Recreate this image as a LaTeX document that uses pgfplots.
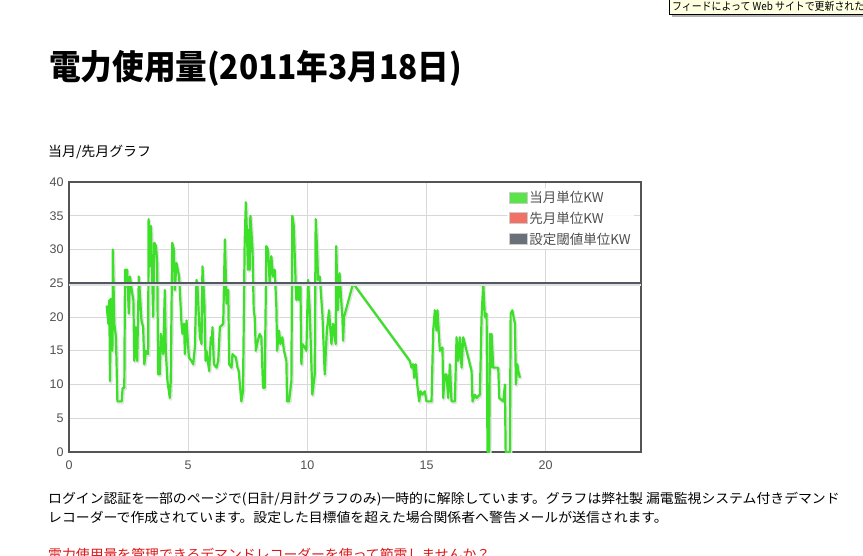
\documentclass[border=0pt]{standalone}
\usepackage{pgfplots}
\pgfplotsset{compat=1.18}
\usepackage{fontspec}
\setmainfont{Liberation Sans}
\newfontfamily\jp{Noto Sans CJK JP}
\definecolor{cgreen}{RGB}{60,224,40}
\definecolor{cred}{RGB}{240,90,74}
\definecolor{cgray}{RGB}{80,88,98}
\definecolor{framec}{RGB}{84,84,84}
\definecolor{gridc}{RGB}{216,216,216}
\definecolor{ticktext}{RGB}{80,80,80}
\definecolor{tipbg}{RGB}{255,255,225}
\definecolor{linkred}{RGB}{220,20,20}
\pgfplotstableread{
x y
1.58 21.7
1.65 19
1.69 22.5
1.72 10.5
1.75 22.7
1.82 15
1.84 30
1.90 19
1.97 17
2.03 7.5
2.21 7.5
2.25 9.5
2.32 9.5
2.35 27
2.44 27
2.51 20.5
2.56 26
2.63 24
2.70 22.5
2.74 13.5
2.79 18.5
2.86 13.5
2.93 26
3.04 19.5
3.11 18.5
3.16 13
3.23 15
3.32 14.5
3.34 34.5
3.39 27.5
3.44 33.5
3.53 20
3.58 31
3.65 30.5
3.70 28
3.74 11.5
3.81 11.5
3.85 17.5
3.95 14.5
4.02 24
4.06 15
4.13 10.5
4.23 8
4.27 10.5
4.33 31
4.40 30
4.44 24
4.51 28
4.62 26
4.72 19
4.76 17.5
4.83 19
4.86 14.5
4.93 19.5
5.03 14
5.14 13.5
5.21 13
5.28 15.5
5.35 25.5
5.39 24.5
5.49 17
5.56 16
5.60 27.5
5.68 22
5.73 13.5
5.77 15
5.88 12
5.95 17
5.99 16
6.02 18.5
6.08 13
6.19 12.5
6.26 13.5
6.33 18.5
6.47 19
6.54 31.5
6.61 22
6.68 24
6.72 13
6.82 12.5
6.86 14.5
7.00 14
7.07 12.5
7.12 12
7.23 7.5
7.30 9
7.37 31
7.42 37
7.47 32
7.51 27
7.56 33
7.58 27
7.61 35
7.70 30
7.75 21
7.79 20
7.84 15
7.89 16
8.00 17.5
8.07 17
8.14 9.5
8.21 9.5
8.28 30.5
8.35 30
8.42 25
8.49 29
8.56 26
8.63 27
8.70 21.5
8.73 15
8.81 18
8.87 16
8.95 17
9.02 15
9.12 13.5
9.15 7.5
9.23 7.5
9.33 10.5
9.37 35
9.43 33.5
9.51 25
9.54 22.5
9.61 24.5
9.65 22.5
9.71 24.5
9.75 13
9.79 16
9.89 15.5
9.96 15
10.03 25.5
10.10 21
10.21 8.5
10.31 11.5
10.35 34.5
10.41 30
10.45 25.5
10.52 26
10.63 20.5
10.73 11.5
10.82 18
10.91 21
11.01 16
11.08 19
11.19 16
11.21 30.5
11.28 21
11.35 26.5
11.43 22
11.47 20
11.50 16.5
11.54 20
11.92 25
14.30 13.5
14.37 12.5
14.44 13
14.48 11
14.55 13
14.61 10
14.69 7.5
14.75 9
14.83 8.5
14.93 9
15.00 7.5
15.21 7.5
15.28 18
15.35 21
15.42 18
15.46 21
15.56 15
15.67 15.5
15.70 8
15.77 11.5
15.84 11.5
15.91 8
15.98 13
16.05 7.5
16.19 7.5
16.26 17
16.33 13.5
16.40 17
16.47 12.5
16.54 17
16.68 15
16.89 12
16.93 7.5
17.03 8.5
17.10 8
17.24 8.5
17.31 20
17.38 25
17.45 20
17.52 20.5
17.56 0
17.63 0
17.66 17.5
17.70 12.5
17.73 17.5
17.80 12.5
18.01 12.5
18.05 8
18.22 7.5
18.25 8.5
18.29 10
18.32 0
18.50 0
18.53 20.5
18.60 21
18.71 19
18.75 10
18.81 13
18.85 12
18.92 11
}\current
\begin{document}
\begin{tikzpicture}[x=1pt,y=1pt]
\useasboundingbox (0,0) rectangle (863,-556);
% tooltip
\fill[black!30] (672,-3) rectangle (870,-17);
\draw[fill=tipbg, draw=black, line width=0.8pt] (669,0.5) rectangle (870,-14);
\node[anchor=base west, inner sep=0] at (672,-11) {\scalebox{0.9}[1]{\fontsize{11}{11}\jp フィードによって Web サイトで更新された}};
% title
\node[anchor=base west, inner sep=0] at (49,-80) {\scalebox{0.93}[1]{\fontsize{34}{34}\jp\bfseries 電力使用量(2011年3月18日)}};
% subtitle
\node[anchor=base west, inner sep=0] at (48,-157) {\scalebox{1.03}[1]{\fontsize{13.5}{13.5}\jp 当月/先月グラフ}};
% body text
\node[anchor=base west, inner sep=0] at (48,-503) {\scalebox{1.042}[1]{\fontsize{13.3}{13.3}\jp ログイン認証を一部のページで(日計/月計グラフのみ)一時的に解除しています。グラフは弊社製 漏電監視システム付きデマンド}};
\node[anchor=base west, inner sep=0] at (48,-522) {\scalebox{1.042}[1]{\fontsize{13.3}{13.3}\jp レコーダーで作成されています。設定した目標値を超えた場合関係者へ警告メールが送信されます。}};
\node[anchor=base west, inner sep=0] at (48,-559) {\scalebox{1.042}[1]{\fontsize{13.3}{13.3}\jp\color{linkred} 電力使用量を管理できるデマンドレコーダーを使って節電しませんか？}};
\begin{axis}[
  at={(69pt,-452pt)}, anchor=south west,
  scale only axis, width=572pt, height=270pt,
  xmin=0, xmax=24, ymin=0, ymax=40,
  xtick={0,5,10,15,20}, ytick={0,5,...,40},
  grid=major, grid style={gridc, line width=0.8pt},
  axis line style={framec, line width=1.8pt},
  major tick length=0pt,
  tick label style={font=\fontsize{12.5}{12.5}\selectfont, text=ticktext},
  /pgf/number format/assume math mode=true,
  yticklabel style={xshift=-2pt},
  xticklabel style={yshift=-5pt},
  legend style={at={(1,1)}, anchor=north east, xshift=-7pt, yshift=-6pt,
    draw=none, fill=white, fill opacity=0.85, text opacity=1,
    font=\fontsize{13.5}{13.5}\jp, text=ticktext,
    row sep=6pt, inner sep=2pt, nodes={inner sep=1pt}},
  legend cell align=left,
]
% shadows
\addplot[forget plot, black!10, line width=3pt, yshift=-1.5pt, xshift=1pt, line join=round] table {\current};
\addplot[forget plot, cgreen, line width=2.2pt, line join=round] table {\current};
% threshold
\addplot[forget plot, black!12, line width=3pt, yshift=-1.5pt] coordinates {(0,25) (24,25)};
\addplot[forget plot, cgray, line width=2.2pt] coordinates {(0,25) (24,25)};
% legend
\addlegendimage{legend image code/.code={\draw[fill=cgreen, draw=black!20, line width=1pt] (-3pt,-5.5pt) rectangle (15pt,5.5pt);}}
\addlegendentry{当月単位KW}
\addlegendimage{legend image code/.code={\draw[fill=cred, draw=black!20, line width=1pt] (-3pt,-5.5pt) rectangle (15pt,5.5pt);}}
\addlegendentry{先月単位KW}
\addlegendimage{legend image code/.code={\draw[fill=cgray, draw=black!20, line width=1pt] (-3pt,-5.5pt) rectangle (15pt,5.5pt);}}
\addlegendentry{設定閾値単位KW}
\end{axis}
\end{tikzpicture}
\end{document}
